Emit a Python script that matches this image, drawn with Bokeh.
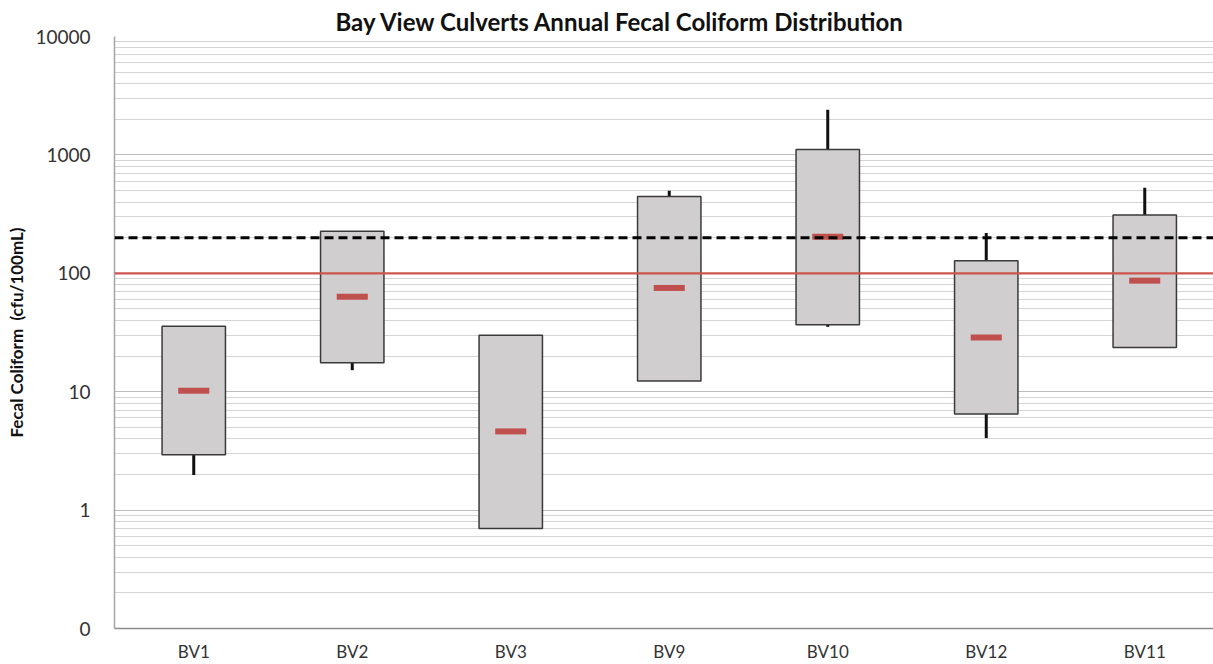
from bokeh.plotting import figure
from bokeh.models import Range1d, FixedTicker, Span, ColumnDataSource
from bokeh.embed import file_html
from bokeh.resources import INLINE

# Annual fecal coliform distribution per culvert (cfu/100mL)
sites = ["BV1", "BV2", "BV3", "BV9", "BV10", "BV12", "BV11"]
whisker_low = [1.98, 15.2, 0.70, 12.3, 35.3, 4.06, 23.6]
quartile_1 = [2.93, 17.6, 0.70, 12.3, 36.7, 6.49, 23.6]
median = [10.2, 63.4, 4.62, 75.2, 204, 28.7, 86.7]
quartile_3 = [35.7, 227, 30.0, 446, 1109, 127.4, 311]
whisker_high = [35.7, 227, 30.0, 498, 2405, 219, 527]

# Reference thresholds
single_sample_limit = 100
geomean_limit = 200

y_ticks = [0.1, 1, 10, 100, 1000, 10000]
y_tick_labels = ["0", "1", "10", "100", "1000", "10000"]

positions = [i + 0.5 for i in range(len(sites))]
src = ColumnDataSource(dict(
    x=positions, lo=whisker_low, q1=quartile_1, med=median,
    q3=quartile_3, hi=whisker_high,
))

W, H = 1213, 664
left, right, top, bottom = 114, 0, 36, 36
slot = 158.5  # pixel width of one category slot
frame_w = W - left - right

p = figure(
    width=W, height=H, output_backend="svg", toolbar_location=None,
    y_axis_type="log",
    x_range=Range1d(0, frame_w / slot),
    y_range=Range1d(0.1, 10000),
    min_border_left=left, min_border_right=right,
    min_border_top=top, min_border_bottom=bottom,
    background_fill_color="white", border_fill_color="white",
    outline_line_color=None,
    title="Bay View Culverts Annual Fecal Coliform Distribution",
)

p.title.text_font = "Lato"
p.title.text_font_style = "bold"
p.title.text_font_size = "24px"
p.title.text_color = "#111111"
p.title.align = "left"
p.title.offset = 221
p.title.standoff = 2

# whiskers
p.segment(x0="x", y0="q3", x1="x", y1="hi", source=src,
          line_color="#111111", line_width=3)
p.segment(x0="x", y0="q1", x1="x", y1="lo", source=src,
          line_color="#111111", line_width=3)
# interquartile boxes
p.vbar(x="x", bottom="q1", top="q3", width=0.4, source=src,
       fill_color="#d0cece", line_color="#3a3a3a", line_width=1.5)
# medians
p.rect(x="x", y="med", width=0.196, height=6, height_units="screen",
       source=src, fill_color="#c0504d", line_color=None)

p.add_layout(Span(location=single_sample_limit, dimension="width",
                  line_color="#cc5550", line_width=2.2))
p.add_layout(Span(location=geomean_limit, dimension="width",
                  line_color="#000000", line_width=3, line_dash="9 5"))

# y axis
p.yaxis.ticker = FixedTicker(
    ticks=y_ticks,
    minor_ticks=[m * d for d in [0.1, 1, 10, 100, 1000] for m in range(2, 10)],
)
p.yaxis.major_label_overrides = dict(zip(y_ticks, y_tick_labels))
p.yaxis.axis_label = "Fecal Coliform \u00a0(cfu/100mL)"
p.yaxis.axis_label_text_font = "Lato"
p.yaxis.axis_label_text_font_style = "bold"
p.yaxis.axis_label_text_font_size = "17px"
p.yaxis.axis_label_text_color = "#111111"
p.yaxis.axis_label_standoff = 5
p.yaxis.major_label_text_font = "Lato"
p.yaxis.major_label_text_font_size = "19px"
p.yaxis.major_label_text_color = "#333333"
p.yaxis.major_label_standoff = 18
p.yaxis.major_tick_line_color = None
p.yaxis.minor_tick_line_color = None
p.yaxis.axis_line_color = "#a6a6a6"
p.yaxis.axis_line_width = 1.5

p.ygrid.grid_line_color = "#bdbdbd"
p.ygrid.grid_line_width = 1.2
p.ygrid.minor_grid_line_color = "#d4d4d4"
p.ygrid.minor_grid_line_width = 1.2
p.xgrid.grid_line_color = None

# x axis
p.xaxis.ticker = FixedTicker(ticks=positions, minor_ticks=[])
p.xaxis.major_label_overrides = dict(zip(positions, sites))
p.xaxis.major_label_text_font = "Lato"
p.xaxis.major_label_text_font_size = "17px"
p.xaxis.major_label_text_color = "#333333"
p.xaxis.major_label_standoff = 6
p.xaxis.major_tick_line_color = None
p.xaxis.minor_tick_line_color = None
p.xaxis.axis_line_color = "#8c8c8c"
p.xaxis.axis_line_width = 1.5

open("out.html", "w").write(file_html(p, INLINE))
